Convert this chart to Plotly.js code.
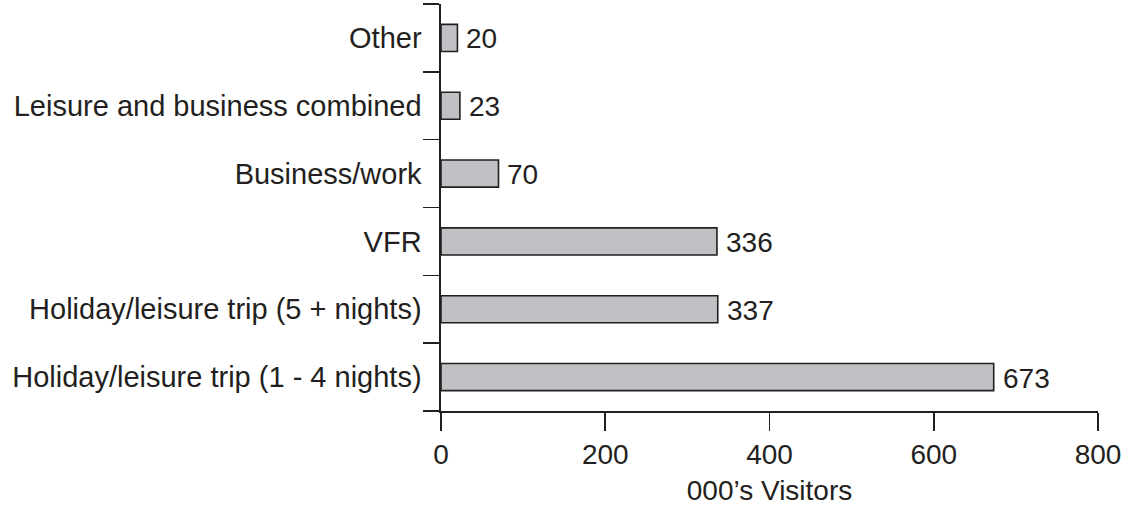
<!DOCTYPE html>
<html>
<head>
<meta charset="utf-8">
<script src="https://cdn.plot.ly/plotly-3.0.1.min.js"></script>
<style>html,body{margin:0;padding:0;background:#fff;}#chart{width:1131px;height:506px;}</style>
</head>
<body>
<div id="chart"></div>
<script>
const categories = [
  "Holiday/leisure trip (1 - 4 nights)",
  "Holiday/leisure trip (5 + nights)",
  "VFR",
  "Business/work",
  "Leisure and business combined",
  "Other"
];
const visitors = [673, 337, 336, 70, 23, 20];
const xTickValues = [0, 200, 400, 600, 800];
const xTitle = "000\u2019s Visitors";

const ink = "#231f20";
const fontFamily = "Liberation Sans, Arial, Helvetica, sans-serif";

const trace = {
  type: "bar",
  orientation: "h",
  y: categories,
  x: visitors,
  width: 0.4,
  marker: {color: "#c0c1c4", line: {color: ink, width: 1.6}},
  hoverinfo: "skip"
};

const valueLabels = visitors.map((v, i) => ({
  x: v,
  y: categories[i],
  xref: "x",
  yref: "y",
  text: String(v),
  showarrow: false,
  xanchor: "left",
  yanchor: "middle",
  xshift: 7,
  yshift: -1,
  font: {family: fontFamily, size: 28, color: ink}
}));

const layout = {
  width: 1131,
  height: 506,
  margin: {l: 441, r: 33, t: 4, b: 95},
  paper_bgcolor: "#fff",
  plot_bgcolor: "#fff",
  showlegend: false,
  font: {family: fontFamily, size: 28, color: ink},
  annotations: valueLabels,
  xaxis: {
    range: [0, 800],
    tickvals: xTickValues,
    ticktext: xTickValues.map(String),
    showgrid: false,
    zeroline: false,
    showline: true,
    linecolor: ink,
    linewidth: 1.6,
    ticks: "outside",
    ticklen: 18,
    tickwidth: 1.6,
    tickcolor: ink,
    tickfont: {family: fontFamily, size: 28, color: ink},
    title: {text: xTitle, font: {family: fontFamily, size: 28, color: ink}, standoff: 14},
    fixedrange: true
  },
  yaxis: {
    type: "category",
    showgrid: false,
    zeroline: false,
    showline: true,
    linecolor: ink,
    linewidth: 1.6,
    ticks: "outside",
    tickson: "boundaries",
    ticklen: 16,
    tickwidth: 1.6,
    tickcolor: ink,
    ticklabelstandoff: 12,
    tickfont: {family: fontFamily, size: 29, color: ink},
    fixedrange: true
  }
};

Plotly.newPlot("chart", [trace], layout, {staticPlot: true, displayModeBar: false});
</script>
</body>
</html>
